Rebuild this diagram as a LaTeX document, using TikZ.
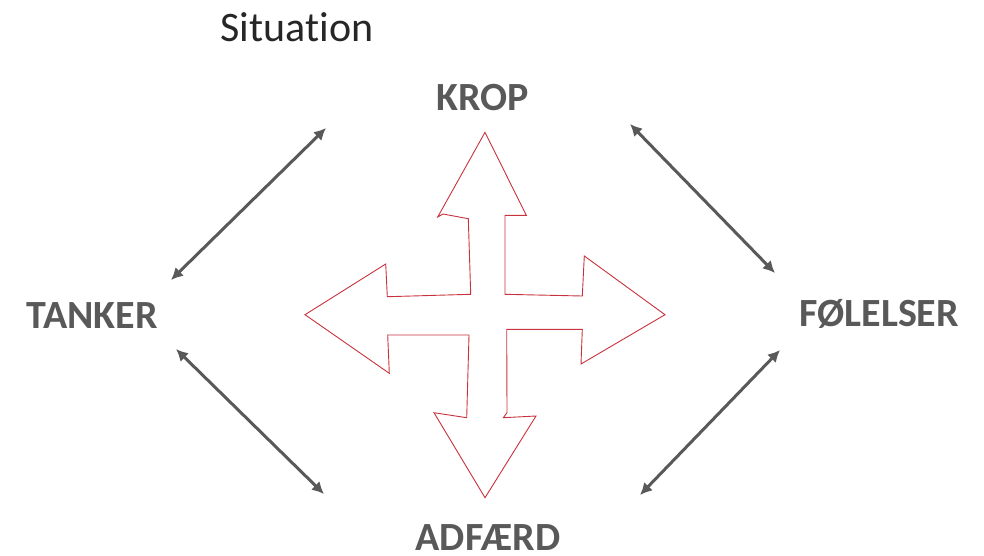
\documentclass[tikz,border=0pt]{standalone}
\usepackage{fontspec}
\setmainfont{Carlito}[Ligatures=NoCommon]
\usetikzlibrary{arrows.meta}
\definecolor{txtgray}{HTML}{595959}
\definecolor{crossred}{HTML}{C8323C}
\begin{document}
\begin{tikzpicture}[x=1pt,y=-1pt,
  lbl/.style={font=\fontsize{40}{40}\selectfont\bfseries, text=txtgray, inner sep=0pt, anchor=center},
  link/.style={draw=txtgray, line width=3pt, {Latex[length=12pt,width=12pt]}-{Latex[length=12pt,width=12pt]}}]
\useasboundingbox (0,0) rectangle (984,555);
\node[font=\fontsize{42}{42}\selectfont, text=black!85, inner sep=0pt] (sit) at (297,27) {Situation};
\node[lbl] (krop) at (483,98) {KROP};
\node[lbl] (tanker) at (92,316) {TANKER};
\node[lbl] (fol) at (879,314) {FØLELSER};
\node[lbl] (adf) at (488,538) {ADFÆRD};
\coordinate (a1) at (171,280); \coordinate (a2) at (326,128);
\coordinate (b1) at (630,124); \coordinate (b2) at (775,273);
\coordinate (c1) at (176,349); \coordinate (c2) at (324,494);
\coordinate (d1) at (780,350); \coordinate (d2) at (640,495);
\draw[link] (a1) -- (a2);
\draw[link] (b1) -- (b2);
\draw[link] (c1) -- (c2);
\draw[link] (d1) -- (d2);
\draw[crossred, line width=0.9pt, line join=miter]
  (485,132.3) -- (526.3,215.3) -- (505,215.3) -- (505,294.3)
  -- (582.3,296) -- (584.3,256) -- (665,314.7) -- (581,364) -- (582.3,329.3)
  -- (506.7,329.3) -- (507,412.7) -- (503.3,417.7) -- (536,416)
  -- (485,497.7) -- (434,412.7) -- (466.7,417.7) -- (469,335)
  -- (387.7,335) -- (389.3,373.3) -- (305,314.7) -- (385.7,264) -- (387.3,296.7)
  -- (470.7,294.3) -- (468.3,218.7) -- (443,214) -- (437.7,217) -- cycle;
\end{tikzpicture}
\end{document}
